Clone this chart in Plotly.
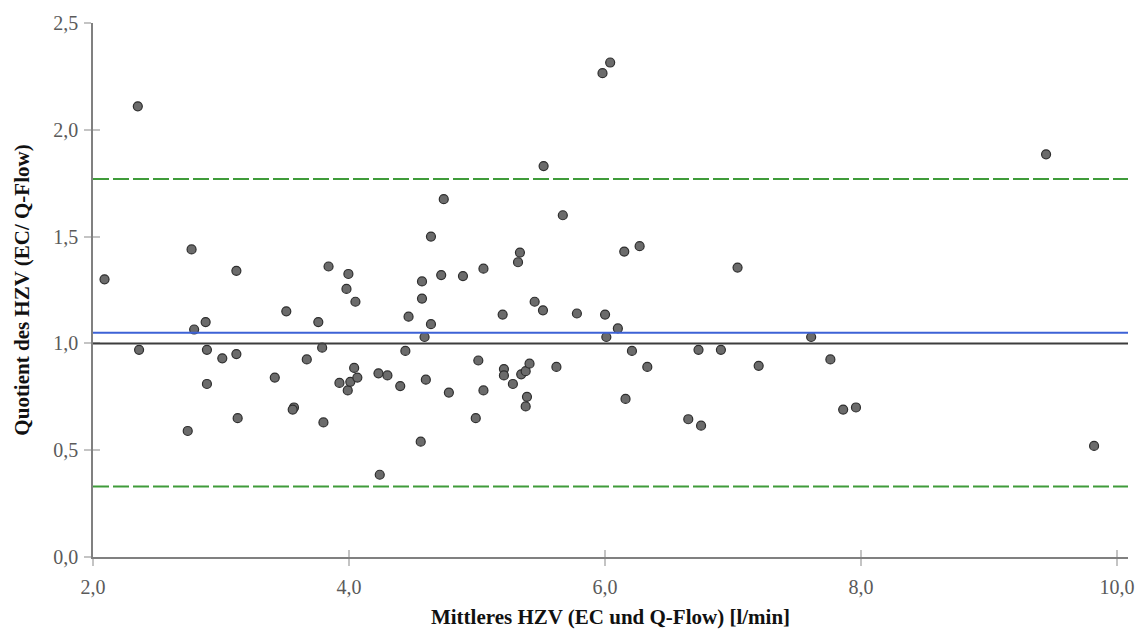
import plotly.graph_objects as go

# Mean HZV (x) and ratio EC / Q-Flow (y)
hzv_mean = [2.09, 2.35, 2.36, 2.74, 2.77, 2.79, 2.88, 2.89, 2.89, 3.01,
            3.12, 3.12, 3.13, 3.42, 3.51, 3.57, 3.56, 3.67, 3.76, 3.79,
            3.80, 3.84, 3.925, 3.98, 3.995, 3.99, 4.01, 4.04, 4.065, 4.05,
            4.23, 4.24, 4.30, 4.40, 4.44, 4.465, 4.56, 4.57, 4.57, 4.59,
            4.60, 4.64, 4.64, 4.72, 4.74, 4.78, 4.89, 4.99, 5.01, 5.05,
            5.05, 5.20, 5.21, 5.21, 5.28, 5.32, 5.335, 5.345, 5.38, 5.38,
            5.39, 5.41, 5.45, 5.515, 5.52, 5.62, 5.67, 5.78, 5.98, 6.00,
            6.01, 6.04, 6.10, 6.15, 6.16, 6.21, 6.27, 6.33, 6.65, 6.73,
            6.75, 6.905, 7.035, 7.20, 7.61, 7.76, 7.86, 7.96, 9.445, 9.82]
quotient = [1.30, 2.11, 0.97, 0.59, 1.44, 1.065, 1.10, 0.97, 0.81, 0.93,
            0.95, 1.34, 0.65, 0.84, 1.15, 0.70, 0.69, 0.925, 1.10, 0.98,
            0.63, 1.36, 0.815, 1.255, 1.325, 0.78, 0.82, 0.885, 0.84, 1.195,
            0.86, 0.385, 0.85, 0.80, 0.965, 1.125, 0.54, 1.21, 1.29, 1.03,
            0.83, 1.09, 1.50, 1.32, 1.675, 0.77, 1.315, 0.65, 0.92, 0.78,
            1.35, 1.135, 0.88, 0.85, 0.81, 1.38, 1.425, 0.855, 0.87, 0.705,
            0.75, 0.905, 1.195, 1.155, 1.83, 0.89, 1.60, 1.14, 2.265, 1.135,
            1.03, 2.315, 1.07, 1.43, 0.74, 0.965, 1.455, 0.89, 0.645, 0.97,
            0.615, 0.97, 1.355, 0.895, 1.03, 0.925, 0.69, 0.70, 1.885, 0.52]

mean_ratio = 1.05
upper_loa = 1.77
lower_loa = 0.33
identity = 1.0

x_ticks = [2, 4, 6, 8, 10]
y_ticks = [0, 0.5, 1.0, 1.5, 2.0, 2.5]
x_range = [2, 10.085]
y_range = [0, 2.5]

serif = "Liberation Serif, Times New Roman, serif"
tick_font = dict(family=serif, size=20, color="#5a5a5a")
title_font = dict(family=serif, size=21, color="#111111")

fig = go.Figure()
fig.add_trace(go.Scatter(
    x=hzv_mean, y=quotient, mode="markers",
    marker=dict(size=9, color="#6b6b6b", line=dict(color="#2e2e2e", width=1.2)),
    showlegend=False, hoverinfo="x+y",
))
# empty trace to render the overlay axes (inner half of crossing ticks)
fig.add_trace(go.Scatter(x=[], y=[], xaxis="x2", yaxis="y2", showlegend=False))

def hline(y, color, width, dash="solid"):
    fig.add_shape(type="line", xref="x domain", x0=0, x1=1, yref="y", y0=y, y1=y,
                  line=dict(color=color, width=width, dash=dash), layer="above")

hline(identity, "#3d3d3d", 2)
hline(mean_ratio, "#3d62d6", 2)
hline(upper_loa, "#3f9b3a", 2, "16px,4px")
hline(lower_loa, "#3f9b3a", 2, "16px,4px")

axis_common = dict(showgrid=False, zeroline=False, ticks="outside", ticklen=7,
                   tickwidth=2, tickcolor="#c4c4c4", showline=True,
                   linecolor="#808080", linewidth=1.5, tickfont=tick_font,
                   tickformat=".1f")

fig.update_layout(
    width=1147, height=637, autosize=False,
    paper_bgcolor="white", plot_bgcolor="white",
    separators=",.",
    margin=dict(l=93, r=16, t=20, b=80),
    xaxis=dict(range=x_range, tickvals=x_ticks,
               title=dict(text="<b>Mittleres HZV (EC und Q-Flow) [l/min]</b>",
                          font=title_font, standoff=13),
               ticklabelstandoff=4, **axis_common),
    yaxis=dict(range=y_range, tickvals=y_ticks,
               title=dict(text="<b>Quotient des HZV (EC/ Q-Flow)</b>",
                          font=title_font, standoff=18),
               ticklabelstandoff=2, **axis_common),
    xaxis2=dict(overlaying="x", anchor="y2", range=x_range, tickvals=x_ticks,
                ticks="inside", ticklen=7, tickwidth=2, tickcolor="#c4c4c4",
                showticklabels=False, showgrid=False, zeroline=False, showline=False),
    yaxis2=dict(overlaying="y", anchor="x2", range=y_range, tickvals=y_ticks,
                ticks="inside", ticklen=7, tickwidth=2, tickcolor="#c4c4c4",
                showticklabels=False, showgrid=False, zeroline=False, showline=False),
)

fig.write_html("out.html", config={"displayModeBar": False},
               post_script="document.body.style.margin='0';")
